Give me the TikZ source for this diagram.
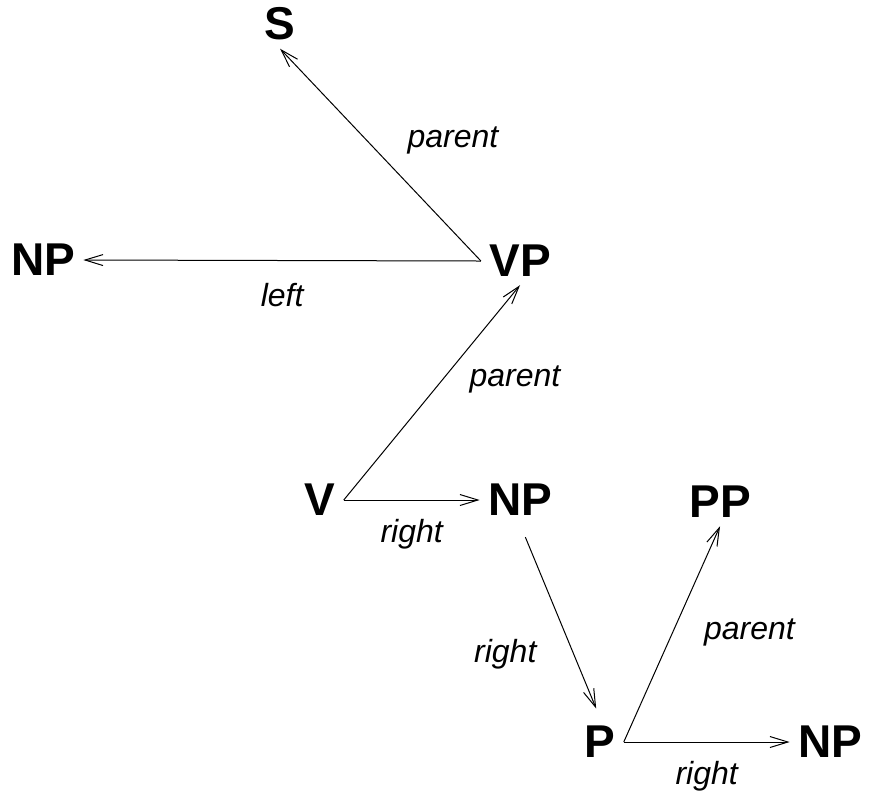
\documentclass[tikz,border=0pt]{standalone}
\usepackage{fontspec}
\setmainfont{Liberation Sans}
\usetikzlibrary{arrows.meta}
\begin{document}
\begin{tikzpicture}[x=0.5pt,y=-0.5pt,
	cat/.style={font=\fontsize{23}{27}\selectfont\bfseries,inner sep=4pt},
	rel/.style={font=\fontsize{16}{19}\selectfont\itshape},
	link/.style={-{Straight Barb[length=9pt,width=5.5pt]},line width=0.5pt}]
	\useasboundingbox (0,0) rectangle (870,794);
	% categories
	\node[cat] (S) at (280,24) {S};
	\node[cat] (NPl) at (43,260) {NP};
	\node[cat] (VP) at (520,261) {VP};
	\node[cat] (V) at (320,500) {V};
	\node[cat] (NPm) at (520,500) {NP};
	\node[cat] (PP) at (720,502) {PP};
	\node[cat] (P) at (600,742) {P};
	\node[cat] (NPr) at (830,742) {NP};
	% links between them
	\draw[link] (VP.west) -- (S.south) node[rel,pos=.57,right=17pt] {parent};
	\draw[link] (VP.west) -- (NPl.east) node[rel,midway,below=8pt] {left};
	\draw[link] (V.east) -- (VP.south) node[rel,pos=.56,right=10pt] {parent};
	\draw[link] (V.east) -- (NPm.west) node[rel,midway,below=6pt] {right};
	\draw[link,shorten <=7pt,shorten >=5pt] (NPm.south) -- (P.north) node[rel,pos=.67,left=15pt] {right};
	\draw[link] (P.east) -- (PP.south) node[rel,pos=.51,right=12pt] {parent};
	\draw[link] (P.east) -- (NPr.west) node[rel,midway,below=6pt] {right};
\end{tikzpicture}
\end{document}
